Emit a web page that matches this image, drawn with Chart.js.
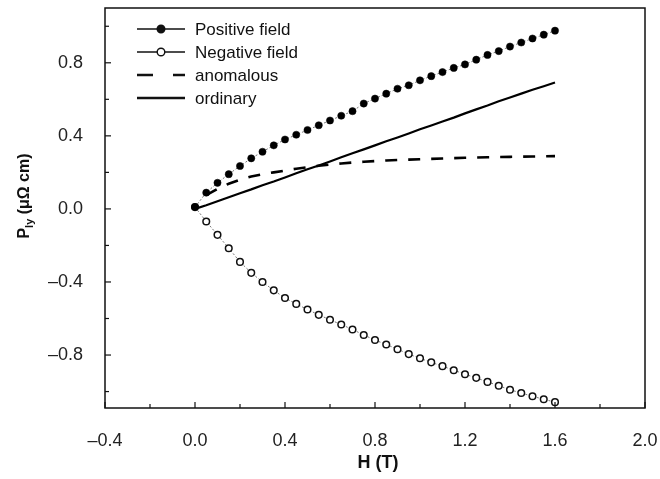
<!DOCTYPE html>
<html>
<head>
<meta charset="utf-8">
<script src="https://cdn.jsdelivr.net/npm/chart.js@4.4.1/dist/chart.umd.min.js"></script>
<style>
  html, body { margin: 0; padding: 0; background: #fff; }
</style>
</head>
<body>
<canvas id="chart" width="660" height="479"></canvas>
<script>
// field values (T)
const fieldH = [0, 0.05, 0.1, 0.15, 0.2, 0.25, 0.3, 0.35, 0.4, 0.45, 0.5, 0.55, 0.6, 0.65, 0.7, 0.75, 0.8,
  0.85, 0.9, 0.95, 1.0, 1.05, 1.1, 1.15, 1.2, 1.25, 1.3, 1.35, 1.4, 1.45, 1.5, 1.55, 1.6];
const anomH = fieldH.slice(1);

// rho_ly (micro-ohm cm)
const positiveField = [0.01, 0.089, 0.143, 0.19, 0.235, 0.277, 0.313, 0.348, 0.38, 0.406, 0.432, 0.458, 0.484,
  0.51, 0.535, 0.577, 0.604, 0.631, 0.658, 0.677, 0.704, 0.727, 0.749, 0.772, 0.791, 0.817, 0.843, 0.864,
  0.889, 0.911, 0.933, 0.954, 0.976];
const negativeField = [0.01, -0.069, -0.142, -0.215, -0.29, -0.35, -0.4, -0.446, -0.488, -0.52, -0.551, -0.58,
  -0.607, -0.633, -0.66, -0.69, -0.718, -0.742, -0.768, -0.795, -0.818, -0.84, -0.861, -0.883, -0.905,
  -0.925, -0.947, -0.968, -0.99, -1.008, -1.026, -1.042, -1.058];
const anomalous = [0.075, 0.11, 0.138, 0.16, 0.178, 0.19, 0.2, 0.21, 0.22, 0.228, 0.236, 0.243, 0.249, 0.254,
  0.258, 0.262, 0.265, 0.268, 0.27, 0.272, 0.274, 0.276, 0.278, 0.28, 0.281, 0.283, 0.284, 0.285, 0.286,
  0.287, 0.288, 0.289];
const ordinary = [0.0, 0.02, 0.042, 0.064, 0.086, 0.107, 0.13, 0.15, 0.172, 0.195, 0.217, 0.238, 0.26, 0.283,
  0.305, 0.326, 0.348, 0.37, 0.391, 0.413, 0.436, 0.457, 0.479, 0.5, 0.523, 0.545, 0.566, 0.589, 0.61,
  0.631, 0.652, 0.672, 0.692];

const xTicks = [-0.4, -0.2, 0, 0.2, 0.4, 0.6, 0.8, 1.0, 1.2, 1.4, 1.6, 1.8, 2.0];
const yTicks = [-1.0, -0.8, -0.6, -0.4, -0.2, 0, 0.2, 0.4, 0.6, 0.8, 1.0];
const seriesNames = ['Positive field', 'Negative field', 'anomalous', 'ordinary'];

const FONT = "'Liberation Sans', Arial, sans-serif";

function pts(xs, ys) { return xs.map((x, i) => ({ x: x, y: ys[i] })); }
function isMajor(v) { return Math.abs(Math.round(v / 0.4) * 0.4 - v) < 1e-6; }
function fmt(v) { const s = (Math.abs(v) < 1e-9 ? 0 : v).toFixed(1); return s.replace('-', '\u2013'); }
function noPad(s) { s.paddingLeft = 0; s.paddingRight = 0; s.paddingTop = 0; s.paddingBottom = 0; }

const decor = {
  id: 'decor',
  afterDraw(chart) {
    const ctx = chart.ctx, a = chart.chartArea;
    const xs = chart.scales.x, ys = chart.scales.y;
    ctx.save();
    ctx.strokeStyle = '#111';
    ctx.lineWidth = 1.5;
    ctx.strokeRect(a.left, a.top, a.right - a.left, a.bottom - a.top);
    ctx.lineWidth = 1.2;
    xTicks.forEach(v => {
      const px = xs.getPixelForValue(v), len = isMajor(v) ? 6 : 4;
      ctx.beginPath(); ctx.moveTo(px, a.bottom); ctx.lineTo(px, a.bottom - len); ctx.stroke();
    });
    yTicks.forEach(v => {
      const py = ys.getPixelForValue(v), len = isMajor(v) ? 6 : 4;
      ctx.beginPath(); ctx.moveTo(a.left, py); ctx.lineTo(a.left + len, py); ctx.stroke();
    });

    // legend
    const rows = [29, 52, 75, 98];
    const x0 = 137, x1 = 185;
    ctx.fillStyle = '#111';
    ctx.font = '17px ' + FONT;
    ctx.textBaseline = 'middle';
    rows.forEach((ry, i) => {
      ctx.beginPath();
      ctx.setLineDash(i === 2 ? [16, 20] : []);
      ctx.lineWidth = i >= 2 ? 2.6 : 1.4;
      ctx.moveTo(x0, ry); ctx.lineTo(x1, ry); ctx.stroke();
      ctx.setLineDash([]);
      if (i < 2) {
        ctx.beginPath();
        ctx.arc((x0 + x1) / 2, ry, 3.8, 0, Math.PI * 2);
        ctx.fillStyle = i === 0 ? '#111' : '#fff';
        ctx.fill();
        ctx.lineWidth = 1.4;
        ctx.stroke();
        ctx.fillStyle = '#111';
      }
      ctx.fillText(seriesNames[i], 195, ry + 1);
    });

    // axis titles
    ctx.fillStyle = '#111';
    ctx.textBaseline = 'middle';
    ctx.textAlign = 'center';
    ctx.font = 'bold 18px ' + FONT;
    ctx.fillText('H (T)', (a.left + a.right) / 2 + 3, 463);

    ctx.translate(25, 196);
    ctx.rotate(-Math.PI / 2);
    ctx.textAlign = 'left';
    const big = 'bold 16px ' + FONT, small = 'bold 11px ' + FONT;
    ctx.font = big; const wP = ctx.measureText('P').width;
    ctx.font = small; const wS = ctx.measureText('ly').width;
    ctx.font = big; const wR = ctx.measureText(' (\u03bc\u03a9 cm)').width;
    let cx = -(wP + wS + wR) / 2;
    ctx.font = big; ctx.fillText('P', cx, 0); cx += wP;
    ctx.font = small; ctx.fillText('ly', cx, 5); cx += wS;
    ctx.font = big; ctx.fillText(' (\u03bc\u03a9 cm)', cx, 0);
    ctx.restore();
  }
};

new Chart(document.getElementById('chart'), {
  type: 'scatter',
  data: {
    datasets: [
      {
        label: seriesNames[0], data: pts(fieldH, positiveField), showLine: true,
        borderColor: '#555', borderWidth: 0.8, borderDash: [2, 2],
        pointRadius: 3.6, pointBackgroundColor: '#000', pointBorderColor: '#000', pointBorderWidth: 0.5
      },
      {
        label: seriesNames[1], data: pts(fieldH, negativeField), showLine: true,
        borderColor: '#555', borderWidth: 0.8, borderDash: [2, 2],
        pointRadius: 3.3, pointBackgroundColor: '#fff', pointBorderColor: '#111', pointBorderWidth: 1.5
      },
      {
        label: seriesNames[2], data: pts(anomH, anomalous), showLine: true,
        borderColor: '#000', borderWidth: 2.6, borderDash: [12, 11], pointRadius: 0
      },
      {
        label: seriesNames[3], data: pts(fieldH, ordinary), showLine: true,
        borderColor: '#000', borderWidth: 2.2, pointRadius: 0
      }
    ]
  },
  options: {
    responsive: false,
    devicePixelRatio: 1,
    animation: false,
    layout: { padding: { top: 8, right: 15, left: 0, bottom: 0 } },
    plugins: { legend: { display: false }, tooltip: { enabled: false } },
    scales: {
      x: {
        type: 'linear', min: -0.4, max: 2.0,
        afterBuildTicks: s => { s.ticks = xTicks.map(v => ({ value: v })); },
        afterFit: s => { s.height = 71; noPad(s); },
        grid: { display: false }, border: { display: false },
        ticks: {
          padding: 14, color: '#222', font: { size: 18, family: FONT }, maxRotation: 0, autoSkip: false,
          callback: v => isMajor(v) ? fmt(v) : ''
        }
      },
      y: {
        type: 'linear', min: -1.09, max: 1.1,
        afterBuildTicks: s => { s.ticks = yTicks.map(v => ({ value: v })); },
        afterFit: s => { s.width = 105; noPad(s); },
        grid: { display: false }, border: { display: false },
        ticks: {
          padding: 14, color: '#222', font: { size: 18, family: FONT }, autoSkip: false,
          callback: v => isMajor(v) ? fmt(v) : ''
        }
      }
    }
  },
  plugins: [decor]
});
</script>
</body>
</html>
